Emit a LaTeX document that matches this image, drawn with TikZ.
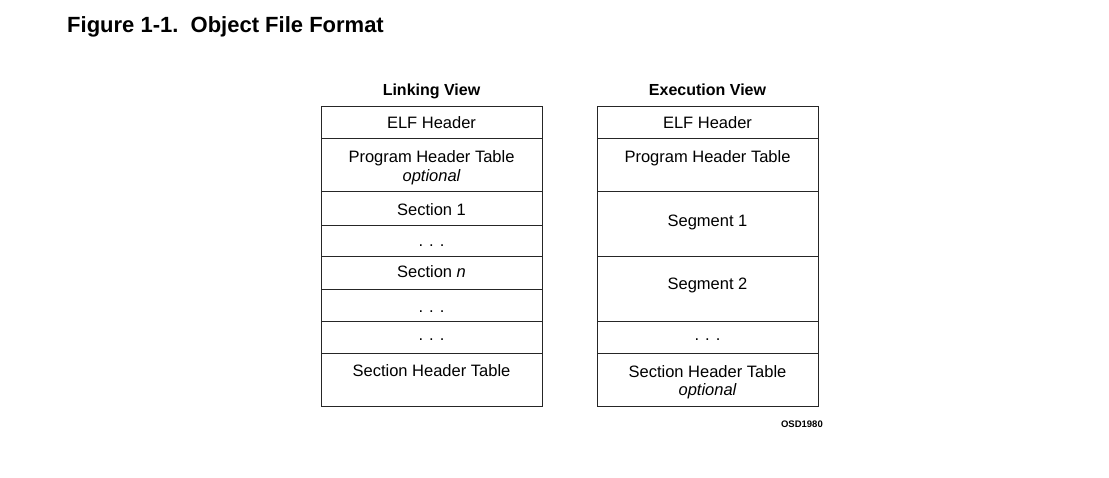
\documentclass[tikz,border=0pt]{standalone}
\usepackage{fontspec}
\setmainfont{Liberation Sans}
\begin{document}
\begin{tikzpicture}[x=1pt,y=-1pt,
  cell/.style={draw=black!85, line width=1pt, minimum width=221pt, inner sep=0pt, outer sep=0pt},
  txt/.style={anchor=base, inner sep=0pt, font=\fontsize{16.5}{19}\selectfont},
  head/.style={anchor=base, inner sep=0pt, font=\bfseries\fontsize{16}{19}\selectfont}]
\useasboundingbox[fill=white] (0,0) rectangle (1109,477);
\node[anchor=base west, inner sep=0pt, font=\bfseries\fontsize{22}{26}\selectfont] (title) at (67,32) {Figure 1-1.\ \ Object File Format};
% Linking view
\node[head] (lhead) at (431.5,95.7) {Linking View};
\node[cell, minimum height=32pt] (l1) at (431.5,122) {};
\node[cell, minimum height=53pt] (l2) at (431.5,164.5) {};
\node[cell, minimum height=34pt] (l3) at (431.5,208) {};
\node[cell, minimum height=31pt] (l4) at (431.5,240.5) {};
\node[cell, minimum height=33pt] (l5) at (431.5,272.5) {};
\node[cell, minimum height=32pt] (l6) at (431.5,305) {};
\node[cell, minimum height=32pt] (l7) at (431.5,337) {};
\node[cell, minimum height=53pt] (l8) at (431.5,379.5) {};
\node[txt] (t1) at (431.5,128.3) {ELF Header};
\node[txt] (t2) at (431.5,162) {Program Header Table};
\node[txt] (t2b) at (431.5,181.7) {\itshape optional};
\node[txt] (t3) at (431.5,215) {Section 1};
\node[txt] (t4) at (431.5,246) {. . .};
\node[txt] (t5) at (431.5,277) {Section \itshape n};
\node[txt] (t6) at (431.5,312.3) {. . .};
\node[txt] (t7) at (431.5,340.7) {. . .};
\node[txt] (t8) at (431.5,376.7) {Section Header Table};
% Execution view
\node[head] (rhead) at (707.5,95.7) {Execution View};
\node[cell, minimum height=32pt] (r1) at (707.5,122) {};
\node[cell, minimum height=53pt] (r2) at (707.5,164.5) {};
\node[cell, minimum height=65pt] (r3) at (707.5,223.5) {};
\node[cell, minimum height=65pt] (r4) at (707.5,288.5) {};
\node[cell, minimum height=32pt] (r5) at (707.5,337) {};
\node[cell, minimum height=53pt] (r6) at (707.5,379.5) {};
\node[txt] (u1) at (707.5,128.3) {ELF Header};
\node[txt] (u2) at (707.5,162) {Program Header Table};
\node[txt] (u3) at (707.5,226.7) {Segment 1};
\node[txt] (u4) at (707.5,289.3) {Segment 2};
\node[txt] (u5) at (707.5,340.7) {. . .};
\node[txt] (u6) at (707.5,377.7) {Section Header Table};
\node[txt] (u6b) at (707.5,395.7) {\itshape optional};
\node[anchor=base east, inner sep=0pt, font=\bfseries\fontsize{9.5}{11}\selectfont] (osd) at (823,427) {OSD1980};
\end{tikzpicture}
\end{document}
